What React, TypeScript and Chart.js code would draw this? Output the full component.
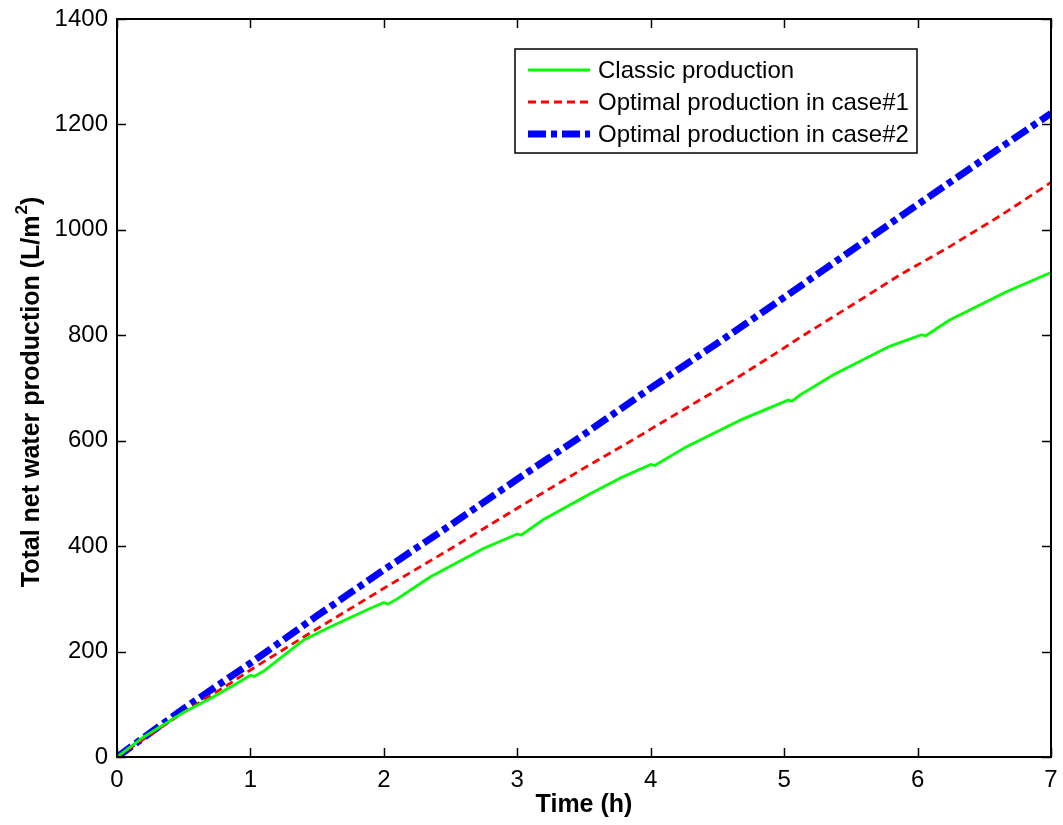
import React, { useEffect, useRef } from "react";
import { Chart, registerables } from "chart.js";

Chart.register(...registerables);

// Classic production (green)
const classicTime = [0, 0.2, 0.5, 0.7, 0.9, 1.0, 1.03, 1.1, 1.4, 1.6, 1.9, 2.0, 2.03, 2.1, 2.35, 2.75, 3.0, 3.03, 3.2, 3.55, 3.77, 4.0, 4.03, 4.25, 4.67, 5.03, 5.06, 5.12, 5.37, 5.79, 6.03, 6.06, 6.24, 6.67, 7.0];
const classicValues = [0, 38, 85, 111, 140, 155, 153, 163, 222, 247, 282, 293, 290, 300, 342, 396, 423, 421, 451, 500, 529, 555, 553, 586, 639, 677, 675, 687, 725, 779, 801, 799, 829, 883, 919];

// Optimal production in case#1 (red dashed)
const case1Time = [0, 0.5, 0.85, 1.0, 1.42, 2.0, 2.5, 2.87, 3.0, 3.5, 3.95, 4.0, 4.62, 4.82, 5.0, 5.12, 5.57, 5.87, 6.22, 6.57, 6.67, 7.0];
const case1Values = [0, 85, 140, 165, 231, 320, 395, 452, 472, 548, 614, 622, 715, 747, 776, 796, 867, 915, 965, 1019, 1035, 1090];

// Optimal production in case#2 (blue dash-dot)
const case2Time = [0, 0.5, 1.0, 1.5, 2.0, 2.5, 3.0, 3.5, 4.0, 4.5, 5.0, 5.5, 6.0, 6.5, 7.0];
const case2Values = [0, 92, 178, 268, 355, 440, 527, 612, 700, 785, 872, 960, 1048, 1135, 1221];

const seriesLabels = ["Classic production", "Optimal production in case#1", "Optimal production in case#2"];
const xTickValues = [0, 1, 2, 3, 4, 5, 6, 7];
const yTickValues = [0, 200, 400, 600, 800, 1000, 1200, 1400];
const xTitle = "Time (h)";
const yTitleMain = "Total net water production (L/m";
const yTitleSup = "2";
const yTitleEnd = ")";

const FONT = "'Liberation Sans', Arial, sans-serif";

const toPoints = (xs: number[], ys: number[]) => xs.map((x, i) => ({ x, y: ys[i] }));

const boxPlugin = {
  id: "matlabBox",
  afterDraw(chart: any) {
    const { ctx, chartArea } = chart;
    const { left, right, top, bottom } = chartArea;
    const xs = chart.scales.x;
    const ys = chart.scales.y;
    const tl = 9;
    ctx.save();
    ctx.strokeStyle = "#000";
    ctx.lineWidth = 2;
    ctx.beginPath();
    ctx.rect(left, top, right - left, bottom - top);
    ctx.stroke();
    ctx.lineWidth = 1.5;
    ctx.beginPath();
    xTickValues.forEach((v) => {
      const px = Math.round(xs.getPixelForValue(v)) + 0.5;
      ctx.moveTo(px, bottom);
      ctx.lineTo(px, bottom - tl);
      ctx.moveTo(px, top);
      ctx.lineTo(px, top + tl);
    });
    yTickValues.forEach((v) => {
      const py = Math.round(ys.getPixelForValue(v)) + 0.5;
      ctx.moveTo(left, py);
      ctx.lineTo(left + tl, py);
      ctx.moveTo(right, py);
      ctx.lineTo(right - tl, py);
    });
    ctx.stroke();

    // legend
    const lg = chart.options.plugins.matlabBox;
    ctx.fillStyle = "#fff";
    ctx.fillRect(lg.x, lg.y, lg.w, lg.h);
    ctx.lineWidth = 1.5;
    ctx.strokeStyle = "#000";
    ctx.strokeRect(lg.x, lg.y, lg.w, lg.h);
    ctx.font = `24px ${FONT}`;
    ctx.textBaseline = "middle";
    ctx.textAlign = "left";
    chart.data.datasets.forEach((ds: any, i: number) => {
      const ry = lg.y + lg.firstRow + i * lg.rowGap;
      ctx.save();
      ctx.strokeStyle = ds.borderColor;
      ctx.lineWidth = ds.borderWidth;
      ctx.lineCap = "butt";
      ctx.setLineDash(ds.borderDash || []);
      ctx.beginPath();
      ctx.moveTo(lg.x + lg.lineStart, ry);
      ctx.lineTo(lg.x + lg.lineEnd, ry);
      ctx.stroke();
      ctx.restore();
      ctx.fillStyle = "#000";
      ctx.fillText(ds.label, lg.x + lg.textStart, ry + 1);
    });

    // y-axis title with superscript
    const mainFont = `bold 25px ${FONT}`;
    const supFont = `bold 17px ${FONT}`;
    ctx.font = mainFont;
    const w1 = ctx.measureText(yTitleMain).width;
    const w3 = ctx.measureText(yTitleEnd).width;
    ctx.font = supFont;
    const w2 = ctx.measureText(yTitleSup).width + 1;
    const total = w1 + w2 + w3;
    ctx.translate(lg.yTitleX, lg.yTitleY);
    ctx.rotate(-Math.PI / 2);
    ctx.fillStyle = "#000";
    ctx.textBaseline = "alphabetic";
    ctx.textAlign = "left";
    let x0 = -total / 2;
    ctx.font = mainFont;
    ctx.fillText(yTitleMain, x0, 9);
    ctx.font = supFont;
    ctx.fillText(yTitleSup, x0 + w1 + 1, -3);
    ctx.font = mainFont;
    ctx.fillText(yTitleEnd, x0 + w1 + w2, 9);
    ctx.restore();
  },
};

const zeroPad = (s: any) => {
  s.paddingTop = 0;
  s.paddingBottom = 0;
  s.paddingLeft = 0;
  s.paddingRight = 0;
};

export default function App() {
  const ref = useRef<HTMLCanvasElement>(null);
  useEffect(() => {
    document.body.style.margin = "0";
    const canvas = ref.current!;
    const chart = new Chart(canvas, {
      type: "line",
      data: {
        datasets: [
          {
            label: seriesLabels[0],
            data: toPoints(classicTime, classicValues),
            borderColor: "#00ff00",
            borderWidth: 2.8,
            pointRadius: 0,
            tension: 0,
            borderJoinStyle: "round",
          },
          {
            label: seriesLabels[1],
            data: toPoints(case1Time, case1Values),
            borderColor: "#ff0000",
            borderWidth: 2.8,
            borderDash: [8, 5],
            pointRadius: 0,
            tension: 0,
          },
          {
            label: seriesLabels[2],
            data: toPoints(case2Time, case2Values),
            borderColor: "#0000ff",
            borderWidth: 7,
            borderDash: [18, 5, 6, 5],
            borderCapStyle: "butt",
            pointRadius: 0,
            tension: 0,
          },
        ],
      },
      options: {
        responsive: false,
        animation: false,
        devicePixelRatio: 1,
        layout: { padding: { left: 0, top: 19, right: 12, bottom: 0 } },
        plugins: {
          legend: { display: false },
          tooltip: { enabled: false },
          matlabBox: { x: 515, y: 49, w: 402, h: 104, firstRow: 21, rowGap: 32, lineStart: 13, lineEnd: 75, textStart: 83, yTitleX: 30, yTitleY: 392 },
        } as any,
        scales: {
          x: {
            type: "linear",
            min: 0,
            max: 7,
            afterFit: (s: any) => { s.height = 68; zeroPad(s); },
            afterBuildTicks: (s: any) => { s.ticks = xTickValues.map((v) => ({ value: v })); },
            ticks: { padding: 9, color: "#000", font: { family: FONT, size: 24 }, callback: (v: any) => String(v) },
            grid: { display: false, drawTicks: false },
            border: { display: false },
            title: { display: true, text: xTitle, color: "#000", font: { family: FONT, size: 25, weight: "bold" }, padding: 5 },
          },
          y: {
            type: "linear",
            min: 0,
            max: 1400,
            afterFit: (s: any) => { s.width = 117; zeroPad(s); },
            afterBuildTicks: (s: any) => { s.ticks = yTickValues.map((v) => ({ value: v })); },
            ticks: { padding: 9, color: "#000", font: { family: FONT, size: 24 }, callback: (v: any) => String(v) },
            grid: { display: false, drawTicks: false },
            border: { display: false },
            title: { display: false },
          },
        },
      },
      plugins: [boxPlugin],
    });
    return () => chart.destroy();
  }, []);
  return (
    <div style={{ position: "absolute", left: 0, top: 0, width: 1063, height: 825, background: "#fff" }}>
      <canvas ref={ref} width={1063} height={825} style={{ width: 1063, height: 825 }} />
    </div>
  );
}
